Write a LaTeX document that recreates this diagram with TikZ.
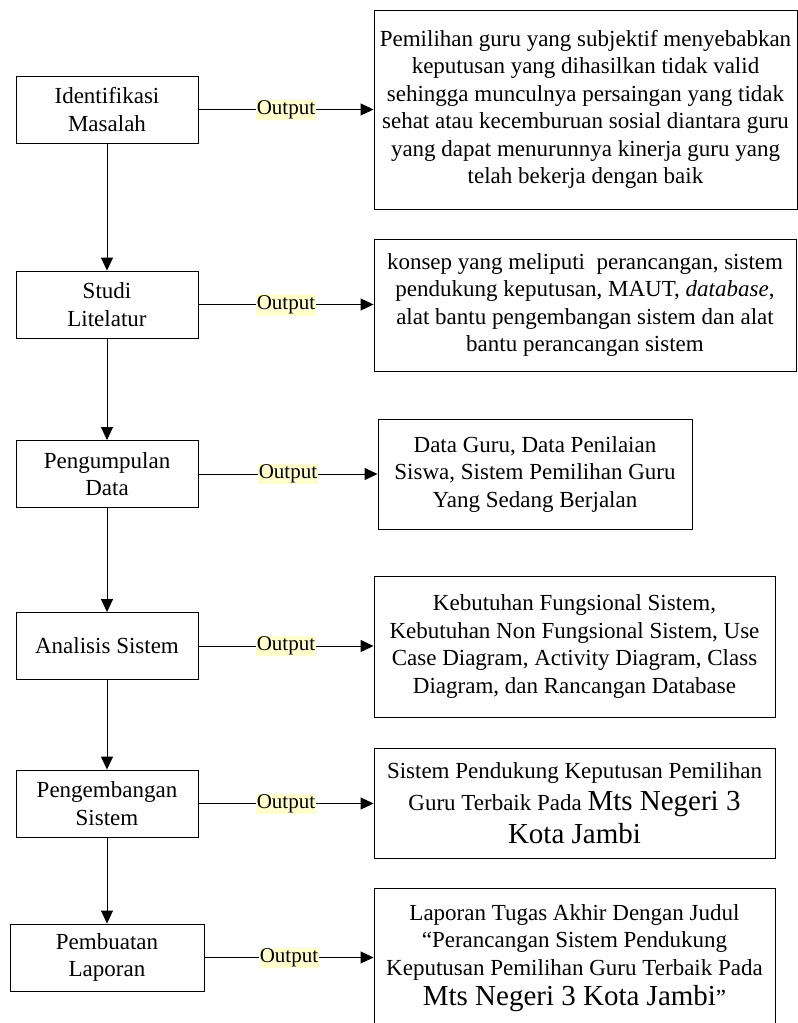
\documentclass[tikz,border=0pt]{standalone}
\usepackage{fontspec}
\setmainfont{Liberation Serif}
\usetikzlibrary{arrows.meta}
\definecolor{hl}{HTML}{FFFFCC}
\tikzset{
  stepbox/.style={draw, line width=0.9pt, minimum width=182pt, minimum height=67pt,
    align=center, inner sep=0pt, font=\fontsize{23}{27.5}\selectfont},
  outbox/.style={draw, line width=0.9pt, align=center, inner sep=0pt,
    font=\fontsize{23}{27.5}\selectfont},
  lbl/.style={fill=hl, inner sep=1pt, font=\fontsize{21}{23}\selectfont},
  arr/.style={line width=0.9pt, -{Triangle[length=13pt,width=12pt]}},
  vline/.style={line width=0.9pt, -{Triangle[length=13pt,width=12pt]}},
}
\newcommand{\bigt}[1]{{\fontsize{29}{32}\selectfont #1}}
\begin{document}
\begin{tikzpicture}[x=1pt,y=-1pt]
\useasboundingbox (0,0) rectangle (798,1023);
\clip (0,0) rectangle (798,1023);
% left steps
\node[stepbox] (s1) at (107,109.5) {Identifikasi\\Masalah};
\node[stepbox] (s2) at (107,304.5) {Studi\\Litelatur};
\node[stepbox] (s3) at (107,474) {Pengumpulan\\Data};
\node[stepbox] (s4) at (107,646) {Analisis Sistem};
\node[stepbox] (s5) at (107,803.5) {Pengembangan\\Sistem};
\node[stepbox, minimum width=194pt] (s6) at (107,957.5) {Pembuatan\\Laporan};
% outputs
\node[outbox, minimum width=423pt, minimum height=199pt] (o1) at (585.5,109.5)
  {Pemilihan guru yang subjektif menyebabkan\\keputusan yang dihasilkan tidak valid\\sehingga munculnya persaingan yang tidak\\sehat atau kecemburuan sosial diantara guru\\yang dapat menurunnya kinerja guru yang\\telah bekerja dengan baik};
\node[outbox, minimum width=422pt, minimum height=132pt] (o2) at (585,305)
  {konsep yang meliputi\ \ perancangan, sistem\\pendukung keputusan, MAUT, \textit{database},\\alat bantu pengembangan sistem dan alat\\bantu perancangan sistem};
\node[outbox, minimum width=314pt, minimum height=110pt] (o3) at (535,474)
  {Data Guru, Data Penilaian\\Siswa, Sistem Pemilihan Guru\\Yang Sedang Berjalan};
\node[outbox, minimum width=401pt, minimum height=141pt] (o4) at (574.5,646.5)
  {Kebutuhan Fungsional Sistem,\\Kebutuhan Non Fungsional Sistem, Use\\Case Diagram, Activity Diagram, Class\\Diagram, dan Rancangan Database};
\node[outbox, minimum width=401pt, minimum height=110pt] (o5) at (574.5,803)
  {Sistem Pendukung Keputusan Pemilihan\\[5pt]Guru Terbaik Pada \bigt{Mts Negeri 3}\\[5pt]\bigt{Kota Jambi}};
\node[outbox, minimum width=401pt, minimum height=140pt] (o6) at (574.5,958)
  {Laporan Tugas Akhir Dengan Judul\\``Perancangan Sistem Pendukung\\Keputusan Pemilihan Guru Terbaik Pada\\[3pt]\bigt{Mts Negeri 3 Kota Jambi}''};
% vertical flow
\draw[vline] (s1) -- (s2);
\draw[vline] (s2) -- (s3);
\draw[vline] (s3) -- (s4);
\draw[vline] (s4) -- (s5);
\draw[vline] (s5) -- (s6);
% outputs
\draw[arr] (s1.east) -- node[lbl]{Output} (s1.east -| o1.west);
\draw[arr] (s2.east) -- node[lbl]{Output} (s2.east -| o2.west);
\draw[arr] (s3.east) -- node[lbl]{Output} (s3.east -| o3.west);
\draw[arr] (s4.east) -- node[lbl]{Output} (s4.east -| o4.west);
\draw[arr] (s5.east) -- node[lbl]{Output} (s5.east -| o5.west);
\draw[arr] (s6.east) -- node[lbl]{Output} (s6.east -| o6.west);
\end{tikzpicture}
\end{document}
